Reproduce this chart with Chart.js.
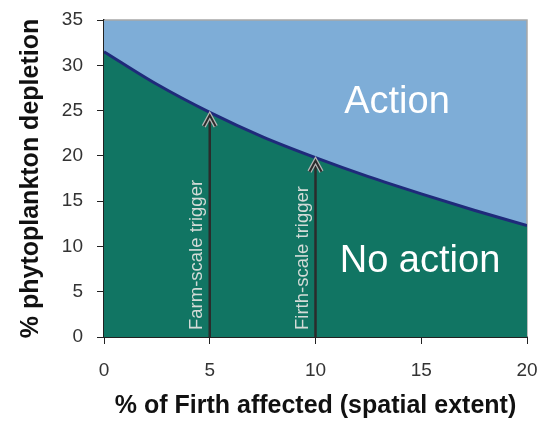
<!DOCTYPE html>
<html>
<head>
<meta charset="utf-8">
<script src="https://cdn.jsdelivr.net/npm/chart.js@4"></script>
<style>
  html, body { margin: 0; padding: 0; background: #fff; }
  #wrap { width: 553px; height: 423px; }
</style>
</head>
<body>
<div id="wrap"><canvas id="chart" width="553" height="423"></canvas></div>
<script>
// threshold curve
const extent = [0, 2.5, 5, 7.5, 10, 12.5, 15, 17.5, 20];
const depletion = [31.5, 27.9, 24.8, 22.1, 19.8, 17.7, 15.8, 14.0, 12.3];
const xTicks = [0, 5, 10, 15, 20];
const yTicks = [0, 5, 10, 15, 20, 25, 30, 35];
const triggers = [
    { x: 5, y: 24.8, label: 'Farm-scale trigger' },
    { x: 10, y: 19.8, label: 'Firth-scale trigger' }
];

const curve = extent.map((x, i) => ({ x, y: depletion[i] }));
const FONT = '"Liberation Sans", Arial, sans-serif';

const zonePlugin = {
    id: 'zones',
    beforeDatasetsDraw(chart) {
        const { ctx, chartArea: a } = chart;
        ctx.save();
        ctx.fillStyle = '#7eadd7';
        ctx.fillRect(a.left, a.top, a.right - a.left, a.bottom - a.top);
        ctx.strokeStyle = '#a8a8a8';
        ctx.lineWidth = 1.5;
        ctx.beginPath();
        ctx.moveTo(a.left, a.top);
        ctx.lineTo(a.right, a.top);
        ctx.lineTo(a.right, a.bottom);
        ctx.stroke();
        ctx.restore();
    },
    afterDatasetsDraw(chart) {
        const { ctx } = chart;
        const xs = chart.scales.x, ys = chart.scales.y;
        ctx.save();
        triggers.forEach(t => {
            const px = xs.getPixelForValue(t.x);
            const top = ys.getPixelForValue(t.y) + 2;
            const bot = ys.getPixelForValue(0);
            ctx.strokeStyle = '#2b2b2b';
            ctx.lineWidth = 2.5;
            ctx.beginPath();
            ctx.moveTo(px, bot);
            ctx.lineTo(px, top);
            ctx.stroke();
            // chevron head
            ctx.strokeStyle = '#b5b5b5';
            ctx.lineWidth = 4.5;
            ctx.beginPath();
            ctx.moveTo(px - 6, top + 12);
            ctx.lineTo(px, top + 1);
            ctx.lineTo(px + 6, top + 12);
            ctx.stroke();
            ctx.strokeStyle = '#2b2b2b';
            ctx.lineWidth = 2;
            ctx.stroke();

            ctx.save();
            ctx.translate(px - 13, bot - 7);
            ctx.rotate(-Math.PI / 2);
            ctx.fillStyle = '#d3dbd7';
            ctx.font = '18.5px ' + FONT;
            ctx.textAlign = 'left';
            ctx.textBaseline = 'middle';
            ctx.fillText(t.label, 0, 0);
            ctx.restore();
        });

        ctx.fillStyle = '#ffffff';
        ctx.font = '38px ' + FONT;
        ctx.textAlign = 'center';
        ctx.textBaseline = 'middle';
        ctx.fillText('Action', 397, 103);
        ctx.fillText('No action', 420, 262);
        ctx.restore();
    }
};

new Chart(document.getElementById('chart'), {
    type: 'scatter',
    data: {
        datasets: [
            {
                data: curve,
                showLine: true,
                fill: 'origin',
                backgroundColor: '#117563',
                borderColor: '#1f2a7a',
                borderWidth: 3,
                pointRadius: 0,
                cubicInterpolationMode: 'monotone'
            }
        ]
    },
    options: {
        responsive: false,
        animation: false,
        layout: { padding: { top: 20, right: 26, left: 0, bottom: 0 } },
        plugins: { legend: { display: false }, tooltip: { enabled: false } },
        scales: {
            x: {
                type: 'linear',
                min: 0,
                max: 20,
                afterBuildTicks: s => { s.ticks = xTicks.map(v => ({ value: v })); },
                afterFit: s => { s.height = 86; s.paddingLeft = 0; s.paddingRight = 0; },
                grid: { drawOnChartArea: false, drawTicks: true, tickLength: 7, color: '#222' },
                border: { color: '#222', width: 2 },
                ticks: { color: '#333', padding: 15, font: { family: FONT, size: 19 } },
                title: {
                    display: true,
                    text: '% of Firth affected (spatial extent)',
                    color: '#111',
                    padding: { top: 0, bottom: 2 },
                    font: { family: FONT, size: 25, weight: 'bold' }
                }
            },
            y: {
                min: 0,
                max: 35,
                afterBuildTicks: s => { s.ticks = yTicks.map(v => ({ value: v })); },
                afterFit: s => { s.width = 104; s.paddingTop = 0; s.paddingBottom = 0; },
                grid: { drawOnChartArea: false, drawTicks: true, tickLength: 7, color: '#222' },
                border: { color: '#222', width: 2 },
                ticks: { color: '#333', padding: 14, font: { family: FONT, size: 19 } },
                title: {
                    display: true,
                    text: '% phytoplankton depletion',
                    color: '#111',
                    padding: { bottom: 0, top: 16 },
                    font: { family: FONT, size: 25, weight: 'bold' }
                }
            }
        }
    },
    plugins: [zonePlugin]
});
</script>
</body>
</html>
